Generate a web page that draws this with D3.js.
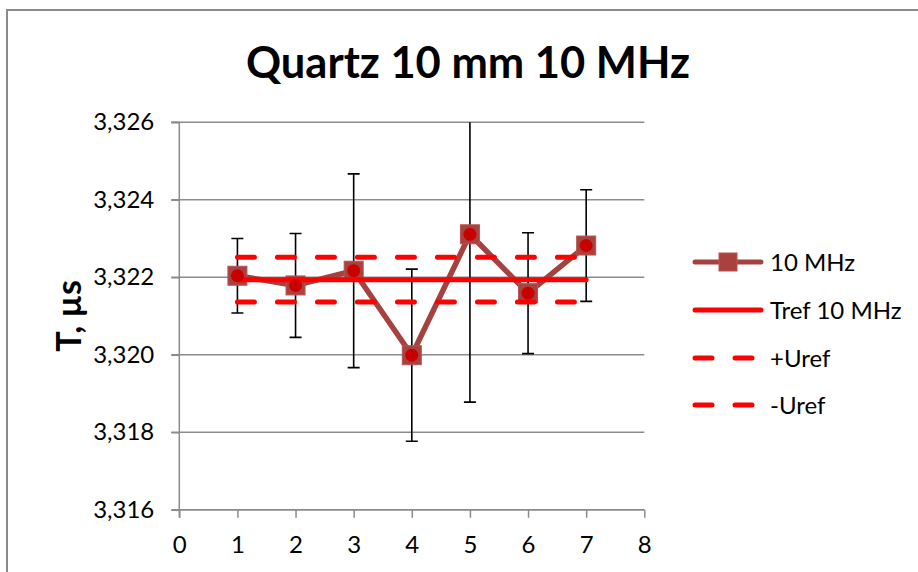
<!DOCTYPE html>
<html>
<head>
<meta charset="utf-8">
<script src="https://cdn.jsdelivr.net/npm/d3@7"></script>
<style>
  html, body { margin: 0; padding: 0; background: #fff; }
  svg { display: block; }
  text { font-family: Lato, "Open Sans", sans-serif; fill: #000; }
</style>
</head>
<body>
<svg id="chart" width="918" height="572"></svg>
<script>
// Measurement runs and measured periods T (µs) with their uncertainties
const runs = [1, 2, 3, 4, 5, 6, 7];
const periods = [3.32204, 3.32179, 3.32217, 3.31999, 3.32311, 3.32159, 3.32282];
const errors = [0.00096, 0.00134, 0.00250, 0.00222, 0.00433, 0.00156, 0.00144];

// Reference period and its uncertainty band
const trefValue = 3.32194;
const urefValue = 0.00058;

// Axis ticks
const xTicks = [0, 1, 2, 3, 4, 5, 6, 7, 8];
const yTicks = [3.316, 3.318, 3.320, 3.322, 3.324, 3.326];

const legendLabels = ["10 MHz", "Tref 10 MHz", "+Uref", "-Uref"];
const titleText = "Quartz 10 mm 10 MHz";
const yTitleText = "T, µs";

const svg = d3.select("#chart");
const plot = { left: 179.3, right: 644.3, top: 122.3, bottom: 509.8 };

const x = d3.scaleLinear().domain([0, 8]).range([plot.left, plot.right]);
const y = d3.scaleLinear().domain([3.316, 3.326]).range([plot.bottom, plot.top]);

const seriesColor = "#A5423F";
const refColor = "#FF0000";
const gridColor = "#8C8C8C";
const labelSize = 24;

// Chart frame
svg.append("rect")
  .attr("x", 7).attr("y", 10).attr("width", 1000).attr("height", 1000)
  .attr("fill", "#fff").attr("stroke", "#8A8A8A").attr("stroke-width", 2);

// Title
svg.append("text")
  .attr("x", 468).attr("y", 78)
  .attr("text-anchor", "middle")
  .attr("font-size", 43.5).attr("font-weight", "bold")
  .text(titleText);

// Horizontal gridlines (with left tick stubs)
svg.append("g").selectAll("line").data(yTicks).join("line")
  .attr("x1", plot.left - 8).attr("x2", plot.right)
  .attr("y1", d => y(d)).attr("y2", d => y(d))
  .attr("stroke", gridColor).attr("stroke-width", 1.5);

// Y axis
const yAxis = d3.axisLeft(y).tickValues(yTicks).tickSize(8).tickPadding(17)
  .tickFormat(d => d3.format(".3f")(d).replace(".", ","));
const gy = svg.append("g").attr("transform", `translate(${plot.left},0)`).call(yAxis);
gy.select(".domain").attr("stroke", gridColor).attr("stroke-width", 1.5)
  .attr("d", `M-8,${plot.top}H0V${plot.bottom + 8}`);
gy.selectAll(".tick line").attr("stroke", gridColor).attr("stroke-width", 1.5);
gy.selectAll(".tick text").attr("font-size", labelSize).attr("font-family", "Lato, sans-serif").attr("fill", "#000");

// X axis
const xAxis = d3.axisBottom(x).tickValues(xTicks).tickSize(8).tickPadding(18).tickFormat(d3.format("d"));
const gx = svg.append("g").attr("transform", `translate(0,${plot.bottom})`).call(xAxis);
gx.select(".domain").attr("stroke", gridColor).attr("stroke-width", 1.5)
  .attr("d", `M${plot.left},0H${plot.right}`);
gx.selectAll(".tick line").attr("stroke", gridColor).attr("stroke-width", 1.5);
gx.selectAll(".tick text").attr("font-size", labelSize).attr("font-family", "Lato, sans-serif").attr("fill", "#000");

// Y axis title
svg.append("text")
  .attr("transform", "translate(81,316) rotate(-90)")
  .attr("text-anchor", "middle")
  .attr("font-size", 34).attr("font-weight", "bold")
  .text(yTitleText);

// Clip to the plot area
svg.append("defs").append("clipPath").attr("id", "plotClip")
  .append("rect")
  .attr("x", plot.left - 20).attr("y", plot.top)
  .attr("width", plot.right - plot.left + 40).attr("height", plot.bottom - plot.top);

const pts = runs.map((r, i) => ({ r, v: periods[i], e: errors[i] }));
const layer = svg.append("g").attr("clip-path", "url(#plotClip)");

// Error bars
const eb = layer.append("g").attr("stroke", "#000").attr("stroke-width", 1.6);
pts.forEach(p => {
  eb.append("line").attr("x1", x(p.r)).attr("x2", x(p.r))
    .attr("y1", y(p.v - p.e)).attr("y2", y(p.v + p.e));
  [p.v - p.e, p.v + p.e].forEach(v => {
    eb.append("line").attr("x1", x(p.r) - 6).attr("x2", x(p.r) + 6)
      .attr("y1", y(v)).attr("y2", y(v));
  });
});

// Measured series line
const line = d3.line().x(d => x(d.r)).y(d => y(d.v));
layer.append("path").datum(pts)
  .attr("d", line).attr("fill", "none")
  .attr("stroke", seriesColor).attr("stroke-width", 5.5).attr("stroke-linejoin", "round");

// Square markers
layer.append("g").selectAll("rect").data(pts).join("rect")
  .attr("x", d => x(d.r) - 9.5).attr("y", d => y(d.v) - 9.5)
  .attr("width", 19).attr("height", 19)
  .attr("fill", "#A9423F").attr("stroke", "#B55451").attr("stroke-width", 1);

// Reference lines
const x0 = runs[0], x1 = runs[runs.length - 1];
const refLines = [
  { v: trefValue, dash: null },
  { v: trefValue + urefValue, dash: "17 23" },
  { v: trefValue - urefValue, dash: "17 23" }
];
refLines.forEach(l => {
  layer.append("line")
    .attr("x1", x(x0)).attr("x2", x(x1))
    .attr("y1", y(l.v)).attr("y2", y(l.v))
    .attr("stroke", refColor).attr("stroke-width", 5)
    .attr("stroke-linecap", "round")
    .attr("stroke-dasharray", l.dash);
});

// Inner round markers
layer.append("g").selectAll("circle").data(pts).join("circle")
  .attr("cx", d => x(d.r)).attr("cy", d => y(d.v)).attr("r", 6.5)
  .attr("fill", "#C80000");

// Legend
const legendY = [262, 310, 358, 405];
const lg = svg.append("g");
legendLabels.forEach((lab, i) => {
  const yy = legendY[i];
  const ln = lg.append("line").attr("x1", 695).attr("x2", 761).attr("y1", yy).attr("y2", yy)
    .attr("stroke-linecap", "round").attr("stroke-width", 5);
  if (i === 0) {
    ln.attr("stroke", seriesColor);
    lg.append("rect").attr("x", 728 - 9).attr("y", yy - 9).attr("width", 18).attr("height", 18)
      .attr("fill", "#A9423F").attr("stroke", "#B55451").attr("stroke-width", 1);
  } else {
    ln.attr("stroke", refColor);
    if (i > 1) ln.attr("stroke-dasharray", "17 23");
  }
  lg.append("text").attr("x", 770).attr("y", yy + 8.5)
    .attr("font-size", labelSize).text(lab);
});
</script>
</body>
</html>
